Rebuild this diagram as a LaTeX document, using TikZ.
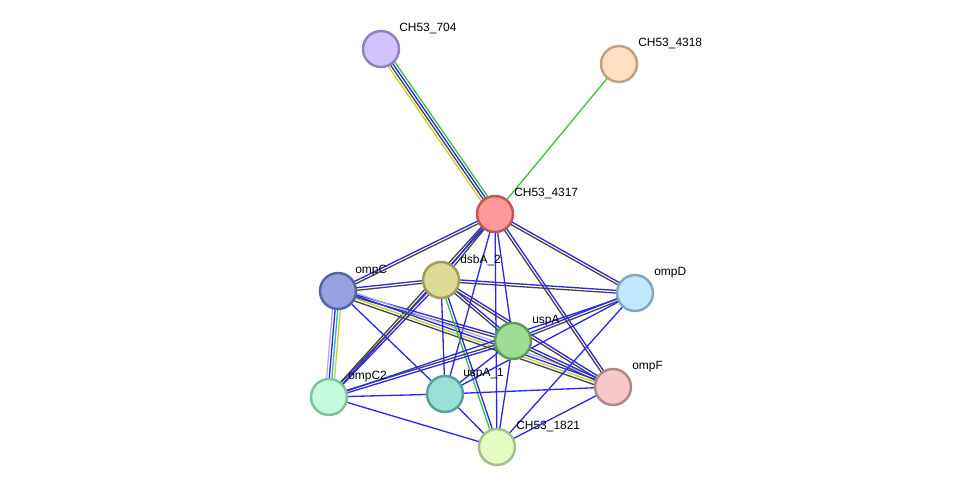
\documentclass[tikz,border=0pt]{standalone}
\usepackage{xcolor}
\usepackage{fontspec}
\setmainfont{Liberation Sans}
\usepackage{tikz}
\usetikzlibrary{positioning, calc, backgrounds}

\definecolor{eblue}{RGB}{40,40,240}
\definecolor{eblack}{RGB}{70,70,70}
\definecolor{egreen}{RGB}{50,200,50}
\definecolor{eyellow}{RGB}{200,210,40}
\definecolor{elight}{RGB}{170,170,255}
\definecolor{ecyan}{RGB}{40,180,210}

% several coloured lines side by side between two nodes
\newcommand{\conn}[3]{%
  \foreach \c [count=\i] in {#3} {\xdef\nlines{\i}}%
  \foreach \c [count=\i] in {#3} {%
    \pgfmathsetmacro{\off}{(\i-(\nlines+1)/2)*1.5}%
    \draw[edge, draw=\c] ($(#1)!\off pt!90:(#2)$) -- ($(#2)!\off pt!-90:(#1)$);
  }}

\begin{document}
\begin{tikzpicture}[x=0.02cm, y=-0.02cm,
        prot/.style={circle, draw, line width=1.4pt, minimum size=0.72cm, inner sep=0pt},
        lbl/.style={anchor=west, inner sep=0pt, font=\fontsize{6.8}{8}\selectfont},
        edge/.style={line width=0.75pt}]
        \useasboundingbox (0,0) rectangle (975,493);

        \node[prot, fill={rgb,255:red,211;green,196;blue,255}, draw={rgb,255:red,145;green,128;blue,195}] (n704) at (381,49) {};
        \node[prot, fill={rgb,255:red,255;green,223;blue,196}, draw={rgb,255:red,192;green,160;blue,128}] (n4318) at (619,64) {};
        \node[prot, fill={rgb,255:red,255;green,153;blue,153}, draw={rgb,255:red,192;green,85;blue,85}] (n4317) at (495,214) {};
        \node[prot, fill={rgb,255:red,152;green,162;blue,224}, draw={rgb,255:red,85;green,101;blue,160}] (ompC) at (338,291) {};
        \node[prot, fill={rgb,255:red,222;green,219;blue,151}, draw={rgb,255:red,160;green,156;blue,90}] (dsbA) at (441,280) {};
        \node[prot, fill={rgb,255:red,195;green,232;blue,253}, draw={rgb,255:red,128;green,168;blue,192}] (ompD) at (635,293) {};
        \node[prot, fill={rgb,255:red,156;green,220;blue,148}, draw={rgb,255:red,92;green,156;blue,85}] (uspA) at (513,341) {};
        \node[prot, fill={rgb,255:red,246;green,200;blue,200}, draw={rgb,255:red,176;green,136;blue,136}] (ompF) at (613,387) {};
        \node[prot, fill={rgb,255:red,194;green,252;blue,220}, draw={rgb,255:red,128;green,192;blue,160}] (ompC2) at (329,397) {};
        \node[prot, fill={rgb,255:red,152;green,223;blue,214}, draw={rgb,255:red,85;green,160;blue,152}] (uspA1) at (445,394) {};
        \node[prot, fill={rgb,255:red,226;green,252;blue,194}, draw={rgb,255:red,160;green,192;blue,136}] (n1821) at (497,447) {};

        \node[lbl] (l704) at ($(n704)+(18,-20)$) {CH53\_704};
        \node[lbl] (l4318) at ($(n4318)+(19,-20)$) {CH53\_4318};
        \node[lbl] (l4317) at ($(n4317)+(19,-20)$) {CH53\_4317};
        \node[lbl] (lompC) at ($(ompC)+(17,-20)$) {ompC};
        \node[lbl] (ldsbA) at ($(dsbA)+(19,-20)$) {dsbA\_2};
        \node[lbl] (lompD) at ($(ompD)+(19,-20)$) {ompD};
        \node[lbl] (luspA) at ($(uspA)+(19,-20)$) {uspA};
        \node[lbl] (lompF) at ($(ompF)+(19,-20)$) {ompF};
        \node[lbl] (lompC2) at ($(ompC2)+(19,-20)$) {ompC2};
        \node[lbl] (luspA1) at ($(uspA1)+(18,-20)$) {uspA\_1};
        \node[lbl] (l1821) at ($(n1821)+(19,-20)$) {CH53\_1821};

        \begin{scope}[on background layer]
        \conn{n4317}{n704}{egreen,eblue,eblack,eyellow}
        \conn{n4317}{n4318}{egreen}
        \conn{n4317}{ompC}{eblue,eblack}
        \conn{n4317}{dsbA}{eblue,eblack}
        \conn{n4317}{ompC2}{eblack,eblue}
        \conn{n4317}{uspA1}{eblue}
        \conn{n4317}{n1821}{eblue}
        \conn{n4317}{uspA}{eblue}
        \conn{n4317}{ompD}{eblack,eblue}
        \conn{n4317}{ompF}{eblack,eblue}
        \conn{ompC}{dsbA}{eblack,eblue}
        \conn{ompC}{uspA}{eblack,eblue}
        \conn{ompC}{ompF}{eblack,eyellow,eblue,elight}
        \conn{ompC}{ompC2}{elight,eblue,ecyan,eyellow}
        \conn{ompC}{uspA1}{eblue}
        \conn{dsbA}{ompD}{eblack,eblue}
        \conn{dsbA}{uspA}{eblack,eblue}
        \conn{dsbA}{ompF}{eblack,eblue}
        \conn{dsbA}{uspA1}{eblue}
        \conn{dsbA}{n1821}{egreen,eblue}
        \conn{dsbA}{ompC2}{eblack,eblue}
        \conn{uspA}{ompD}{eblack,eblue}
        \conn{uspA}{ompF}{eblack,eblue}
        \conn{uspA}{ompC2}{eblack,eblue}
        \conn{uspA}{uspA1}{eblue}
        \conn{uspA}{n1821}{eblue}
        \conn{ompD}{ompC2}{eblue}
        \conn{ompD}{uspA1}{eblue}
        \conn{ompD}{n1821}{eblue}
        \conn{ompF}{uspA1}{eblue}
        \conn{ompF}{n1821}{eblue}
        \conn{ompC2}{uspA1}{eblue}
        \conn{ompC2}{n1821}{eblue}
        \conn{uspA1}{n1821}{eblue}
        \end{scope}
      \end{tikzpicture}
\end{document}
